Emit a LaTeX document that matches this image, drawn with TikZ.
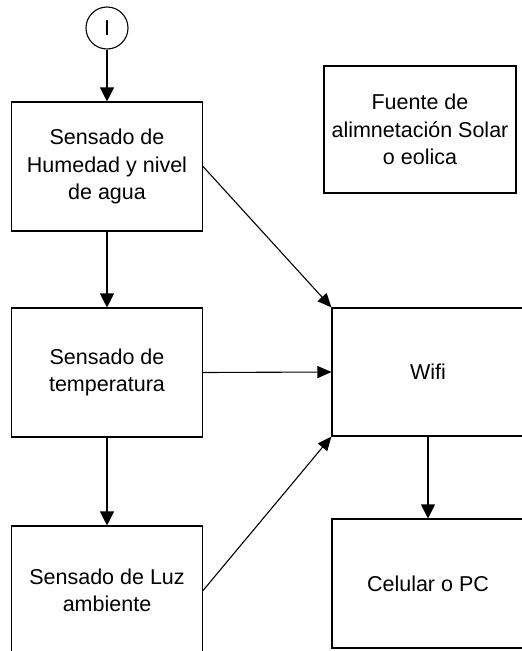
\documentclass[tikz,border=0pt]{standalone}
\usepackage{fontspec}
\setmainfont{Liberation Sans}
\usetikzlibrary{arrows.meta}
\begin{document}
\begin{tikzpicture}[x=1pt,y=-1pt,
  box/.style={draw, line width=1.1pt, align=center, inner sep=0pt,
    font=\fontsize{21.5}{27.5}\selectfont},
  arr/.style={line width=1.1pt, -{Triangle[length=14pt,width=14pt]}},
  ln/.style={line width=1.1pt, -{Triangle[length=14pt,width=12pt]}}]
\useasboundingbox (0,0) rectangle (522,651);
\clip (0,0) rectangle (522,651);
\fill[white] (0,0) rectangle (522,651);
\node[draw, circle, line width=1.1pt, minimum size=42pt, inner sep=0pt,
  font=\fontsize{21.5}{27.5}\selectfont] (start) at (107,28) {I};
\node[box, minimum width=191pt, minimum height=129pt] (hum) at (107,166.5)
  {Sensado de\\Humedad y nivel\\de agua};
\node[box, minimum width=191pt, minimum height=129pt] (temp) at (107,372.5)
  {Sensado de\\temperatura};
\node[box, minimum width=191pt, minimum height=129pt] (luz) at (107,590.5)
  {Sensado de Luz\\ambiente};
\node[box, minimum width=192pt, minimum height=128pt] (wifi) at (428,372)
  {Wifi};
\node[box, minimum width=192pt, minimum height=129pt] (cel) at (428,583.5)
  {Celular o PC};
\node[box, minimum width=192pt, minimum height=127pt] (fuente) at (420,129.5)
  {Fuente de\\alimnetación Solar\\o eolica};
\draw[arr] (start) -- (hum);
\draw[arr] (hum) -- (temp);
\draw[arr] (temp) -- (luz);
\draw[arr] (wifi) -- (cel);
\draw[ln] (hum.east) -- (wifi.north west);
\draw[ln] (temp.east) -- (wifi.west);
\draw[ln] (luz.east) -- (wifi.south west);
\end{tikzpicture}
\end{document}
